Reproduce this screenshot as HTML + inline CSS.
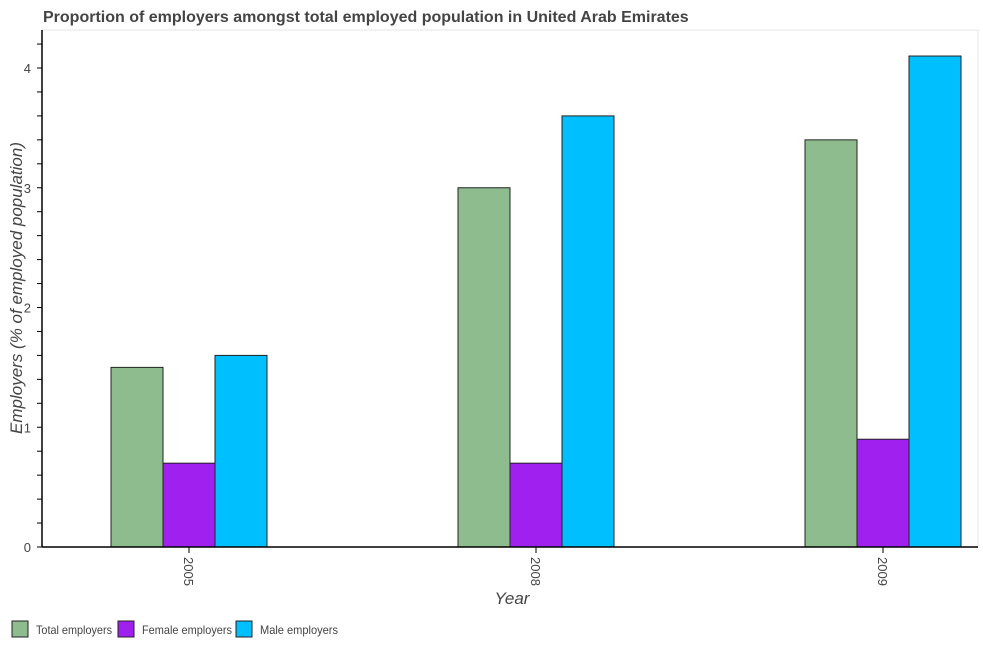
<!DOCTYPE html>
<html><head><meta charset="utf-8"><style>
body{margin:0;background:#fff;font-family:"Liberation Sans",sans-serif}
</style></head><body>
<svg id="chart" width="983" height="650" xmlns="http://www.w3.org/2000/svg" font-family="Liberation Sans, sans-serif">
<text x="43" y="22" font-size="16" font-weight="bold" fill="#444">Proportion of employers amongst total employed population in United Arab Emirates</text>
<rect x="42" y="30" width="936" height="517" fill="none" stroke="#e6e6e6" stroke-width="1"/>
<g id="bars"></g>
<g id="axes"></g>
<text transform="translate(22,288) rotate(-90)" text-anchor="middle" font-size="17" font-style="italic" fill="#444">Employers (% of employed population)</text>
<text x="512" y="604" text-anchor="middle" font-size="17" font-style="italic" fill="#444">Year</text>
<g id="legend"></g>
</svg>
<script>
const categories = ["2005","2008","2009"];
const totalEmployers = [1.5,3.0,3.4];
const femaleEmployers = [0.7,0.7,0.9];
const maleEmployers = [1.6,3.6,4.1];
const yTicks = [0,1,2,3,4];
const seriesNames = ["Total employers","Female employers","Male employers"];
const seriesColors = ["#8fbc8f","#a020f0","#00bfff"];

const NS="http://www.w3.org/2000/svg";
const x0=42, y0=547, unit=119.75, firstC=189, step=347, bw=52;
const yScale=v=>y0-v*unit;
const xCenter=i=>firstC+i*step;
function mk(tag,attrs,parent){const e=document.createElementNS(NS,tag);for(const k in attrs)e.setAttribute(k,attrs[k]);parent.appendChild(e);return e;}
const bars=document.getElementById('bars'), axes=document.getElementById('axes'), legend=document.getElementById('legend');
const series=[totalEmployers,femaleEmployers,maleEmployers];
series.forEach((vals,s)=>{
  vals.forEach((v,i)=>{
    const r=mk('rect',{x:xCenter(i)-1.5*bw+s*bw,y:yScale(v),width:bw,height:v*unit,fill:seriesColors[s],stroke:'#222','stroke-width':1},bars);
    
    
  });
});
mk('line',{x1:x0,y1:30,x2:x0,y2:y0,stroke:'#000','stroke-width':1.5},axes);
mk('line',{x1:x0,y1:y0,x2:978,y2:y0,stroke:'#000','stroke-width':1.5},axes);
for(let k=0;k<=21;k++){const y=yScale(k*0.2);mk('line',{x1:x0-5,y1:y,x2:x0,y2:y,stroke:'#000'},axes);}
yTicks.forEach(v=>{
  const t=mk('text',{x:x0-11,y:yScale(v)+5,'text-anchor':'end','font-size':13,fill:'#444'},axes);
  t.textContent=v;
  
  
});
categories.forEach((c,i)=>{
  const x=xCenter(i);
  mk('line',{x1:x,y1:y0,x2:x,y2:y0+6,stroke:'#000'},axes);
  const t=mk('text',{transform:`translate(${x-5},${y0+10}) rotate(90)`,'font-size':13,fill:'#444'},axes);
  t.textContent=c;
  
  
});
const lx=[12,118,236];
const lw=[76,90,78];
seriesNames.forEach((n,s)=>{
  const g=mk('g',{},legend);
  
  
  mk('rect',{x:lx[s],y:621,width:16,height:16,fill:seriesColors[s],stroke:'#222'},g);
  const t=mk('text',{x:lx[s]+24,y:634,'font-size':12,fill:'#444',textLength:lw[s],lengthAdjust:'spacingAndGlyphs'},g);
  t.textContent=n;
});
</script>
</body></html>
